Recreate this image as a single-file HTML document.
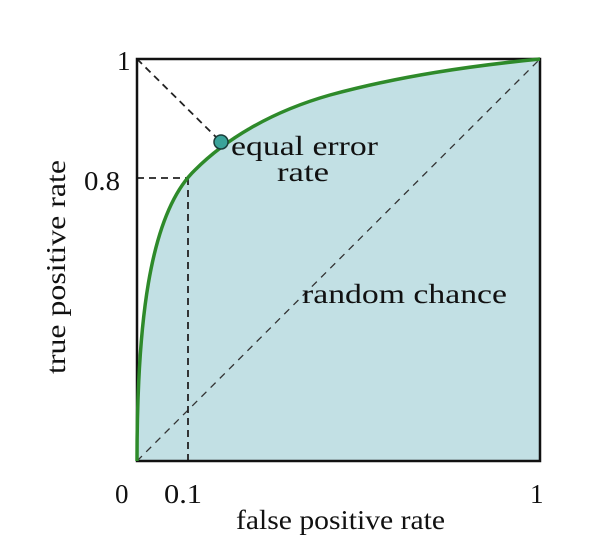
<!DOCTYPE html>
<html><head><style>body{margin:0;background:#fff}svg{display:block}</style></head><body>
<svg width="602" height="552" viewBox="0 0 602 552" xmlns="http://www.w3.org/2000/svg" font-family="Liberation Serif, serif">
<path d="M137,461 C137,330 148,215 195,170 C225,140 270,112 330,95 C400,76 470,66 540,59 L540,461 Z" fill="#c2e0e4"/>
<line x1="137" y1="461" x2="540" y2="59" stroke="#333" stroke-width="1.3" stroke-dasharray="7,6"/>
<line x1="137" y1="59" x2="221" y2="142" stroke="#222" stroke-width="1.8" stroke-dasharray="7,5"/>
<line x1="137" y1="178" x2="188" y2="178" stroke="#222" stroke-width="1.8" stroke-dasharray="7,5"/>
<line x1="188" y1="178" x2="188" y2="461" stroke="#222" stroke-width="1.8" stroke-dasharray="7,5"/>
<rect x="137" y="59" width="403" height="402" fill="none" stroke="#111" stroke-width="2.5"/>
<path d="M137,461 C137,330 148,215 195,170 C225,140 270,112 330,95 C400,76 470,66 540,59" fill="none" stroke="#2e8a2a" stroke-width="3.5"/>
<circle cx="221" cy="142" r="7" fill="#3aa39a" stroke="#1a3d3a" stroke-width="1.5"/>
<g font-size="27" fill="#111">
<text x="231" y="155" textLength="147" lengthAdjust="spacingAndGlyphs">equal error</text>
<text x="277" y="181" textLength="52" lengthAdjust="spacingAndGlyphs">rate</text>
<text x="302" y="303" textLength="205" lengthAdjust="spacingAndGlyphs">random chance</text>
<text x="117" y="70">1</text>
<text x="84" y="190" textLength="36" lengthAdjust="spacingAndGlyphs">0.8</text>
<text x="115" y="503">0</text>
<text x="164" y="503" textLength="38" lengthAdjust="spacingAndGlyphs">0.1</text>
<text x="530" y="503">1</text>
<text x="236" y="529" textLength="209" lengthAdjust="spacingAndGlyphs">false positive rate</text>
<text transform="translate(65,374) rotate(-90)" textLength="214" lengthAdjust="spacingAndGlyphs">true positive rate</text>
</g>
</svg>
</body></html>
